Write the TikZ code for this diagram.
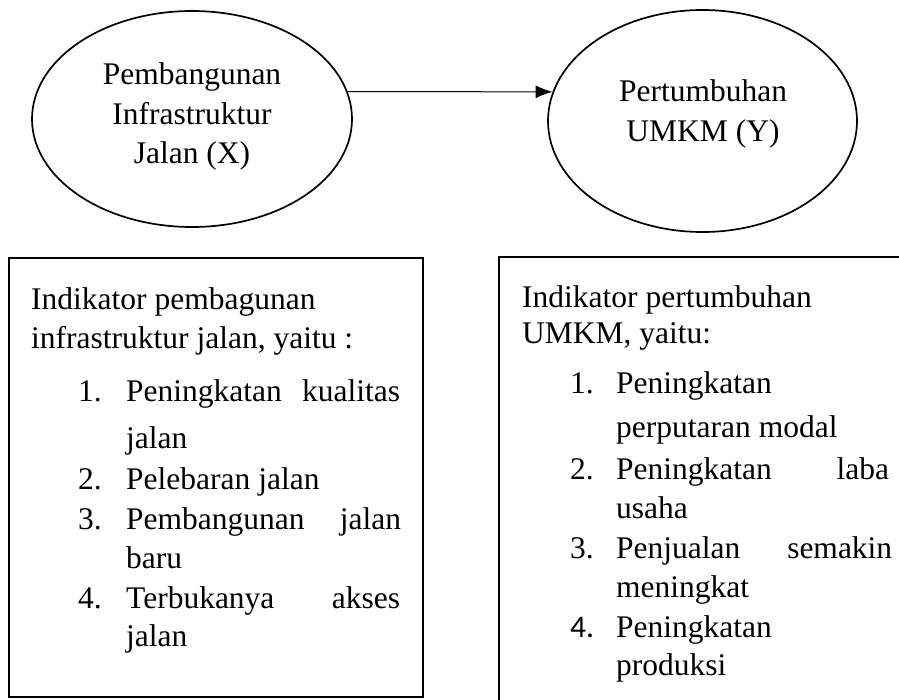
\documentclass[tikz,border=0pt]{standalone}
\usepackage{fontspec}
\setmainfont{Liberation Serif}
\newfontfamily\numsans{Carlito}
\usetikzlibrary{shapes.geometric,arrows.meta}
\begin{document}
\begin{tikzpicture}[x=1pt,y=-1pt,
  txt/.style={anchor=base west,inner sep=0pt,font=\fontsize{31.5}{36}\selectfont},
  ctxt/.style={anchor=base,inner sep=0pt,font=\fontsize{31.5}{36}\selectfont},
  oval/.style={draw,ellipse,line width=1.7pt,inner sep=0pt},
  boxnode/.style={draw,rectangle,line width=2.2pt,inner sep=0pt},
  conn/.style={line width=1pt,-{Latex[length=17pt,width=13pt]}}]
\useasboundingbox (0,0) rectangle (899,699);
\clip (0,0) rectangle (899,699);
% ellipses
\node[oval,minimum width=320pt,minimum height=216pt] (l) at (192,119) {};
\node[oval,minimum width=309pt,minimum height=222pt] (r) at (702.5,121) {};
\draw[conn] (l.10) -- (r.169);
\node[ctxt] (l1) at (192,84) {Pembangunan};
\node[ctxt] (l2) at (192,124) {Infrastruktur};
\node[ctxt] (l3) at (192,163) {Jalan (X)};
\node[ctxt] (r1) at (703,101) {Pertumbuhan};
\node[ctxt] (r2) at (703,141) {UMKM (Y)};
% boxes
\node[boxnode,minimum width=414pt,minimum height=439pt] (bl) at (216,477.5) {};
\node[boxnode,minimum width=421pt,minimum height=463pt] (br) at (709.5,488.5) {};
% left box text
\node[txt] (a1) at (31,309) {Indikator pembagunan};
\node[txt] (a2) at (31,348) {infrastruktur jalan, yaitu :};
\node[txt] (an1) at (78,401) {1.};
\node[txt] (ai1) at (126,401) {\hbox to 274pt{Peningkatan\hfill kualitas}};
\node[txt] (ai1b) at (126,448) {jalan};
\node[txt] (an2) at (78,489) {2.};
\node[txt] (ai2) at (126,489) {Pelebaran jalan};
\node[txt] (an3) at (78,529) {3.};
\node[txt] (ai3) at (126,529) {\hbox to 275pt{Pembangunan\hfill jalan}};
\node[txt] (ai3b) at (126,568) {baru};
\node[txt] (an4) at (78,608) {4.};
\node[txt] (ai4) at (126,608) {\hbox to 274pt{Terbukanya\hfill akses}};
\node[txt] (ai4b) at (126,646) {jalan};
% right box text
\node[txt] (b1) at (522,307) {Indikator pertumbuhan};
\node[txt] (b2) at (522,343) {UMKM, yaitu:};
\node[txt] (bn1) at (570,393) {1.};
\node[txt] (bi1) at (616,393) {Peningkatan};
\node[txt] (bi1b) at (616,437) {perputaran modal};
\node[txt] (bn2) at (570,479) {2.};
\node[txt] (bi2) at (616,479) {\hbox to 273pt{Peningkatan\hfill laba}};
\node[txt] (bi2b) at (616,518) {usaha};
\node[txt] (bn3) at (570,558) {3.};
\node[txt] (bi3) at (616,558) {\hbox to 276pt{Penjualan\hfill semakin}};
\node[txt] (bi3b) at (616,597) {meningkat};
\node[txt] (bn4) at (570,637) {\numsans 4.};
\node[txt] (bi4) at (616,637) {Peningkatan};
\node[txt] (bi4b) at (616,675) {produksi};
\end{tikzpicture}
\end{document}
